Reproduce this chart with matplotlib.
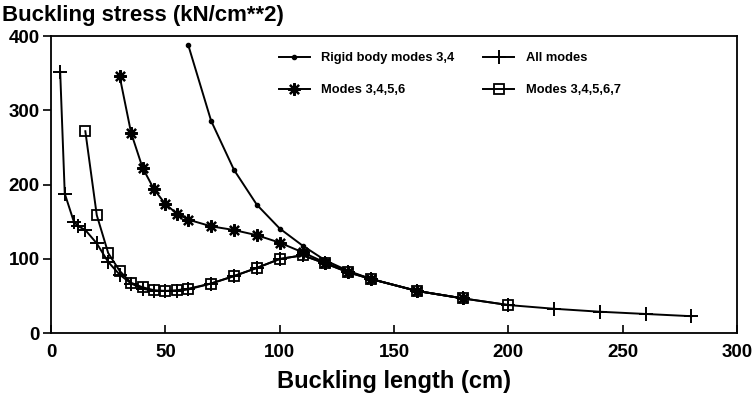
import matplotlib
matplotlib.use('Agg')
import matplotlib.pyplot as plt

# buckling length (cm) and buckling stress (kN/cm**2)
rigid_x = [60, 70, 80, 90, 100, 110, 120, 130, 140, 160, 180]
rigid_y = [388, 286, 220, 173, 141, 118, 98, 84, 73, 57, 47]

modes3456_x = [30, 35, 40, 45, 50, 55, 60, 70, 80, 90, 100, 110, 120, 130, 140, 160, 180]
modes3456_y = [346, 270, 223, 194, 174, 161, 153, 144, 139, 132, 122, 109, 95, 83, 73, 57, 47]

all_x = [4, 6, 10, 12, 15, 20, 25, 30, 35, 40, 45, 50, 55, 60, 70, 80, 90, 100, 110,
         120, 130, 140, 160, 180, 200, 220, 240, 260, 280]
all_y = [352, 188, 150, 144, 139, 121, 96, 79, 67, 60, 57, 57, 57, 59, 67, 77, 88, 100, 105,
         94, 82, 73, 57, 47, 38, 33, 29, 26, 23]

modes34567_x = [15, 20, 25, 30, 35, 40, 45, 50, 55, 60, 70, 80, 90, 100, 110, 120, 130, 140,
                160, 180, 200]
modes34567_y = [272, 159, 108, 84, 68, 62, 58, 57, 58, 60, 67, 77, 88, 100, 105, 94, 82, 73,
                57, 47, 38]

plt.rcParams['font.family'] = ['Liberation Sans', 'DejaVu Sans']
plt.rcParams['font.weight'] = 'bold'

fig = plt.figure(figsize=(7.56, 3.97), dpi=100)
ax = fig.add_axes([0.0675, 0.1605, 0.9075, 0.7485])

lw = 1.4
h_rigid, = ax.plot(rigid_x, rigid_y, '-', color='black', lw=lw, marker='o', markersize=3,
                   label='Rigid body modes 3,4')
h_all, = ax.plot(all_x, all_y, '-', color='black', lw=lw, marker='+', markersize=10,
                 markeredgewidth=1.4, label='All modes')
h_3456, = ax.plot(modes3456_x, modes3456_y, '-', color='black', lw=lw, marker=(8, 2, 0),
                  markersize=9, markeredgewidth=1.6, label='Modes 3,4,5,6')
h_34567, = ax.plot(modes34567_x, modes34567_y, '-', color='black', lw=lw, marker='s',
                   markersize=7, markerfacecolor='none', markeredgewidth=1.3,
                   label='Modes 3,4,5,6,7')

ax.set_xlim(0, 300)
ax.set_ylim(0, 400)
ax.set_xticks(range(0, 301, 50))
ax.set_yticks(range(0, 401, 100))
ax.tick_params(axis='x', direction='in', length=6, width=1.2, labelsize=13.5, pad=8)
ax.tick_params(axis='y', direction='out', length=6, width=1.2, labelsize=13.5, pad=2)
for lab in ax.get_xticklabels() + ax.get_yticklabels():
    lab.set_fontweight('bold')
for sp in ax.spines.values():
    sp.set_linewidth(1.3)

ax.set_xlabel('Buckling length (cm)', fontsize=17, fontweight='bold', labelpad=6)
fig.text(0.003, 0.962, 'Buckling stress (kN/cm**2)', fontsize=16, fontweight='bold',
         ha='left', va='center')

ax.legend(handles=[h_rigid, h_3456, h_all, h_34567], ncol=2, frameon=False,
          loc='upper left', bbox_to_anchor=(0.315, 0.985), handlelength=2.4,
          handletextpad=0.9, columnspacing=2.2, labelspacing=1.55,
          prop={'weight': 'bold', 'size': 9.3})

fig.savefig('out.png', dpi=100)
